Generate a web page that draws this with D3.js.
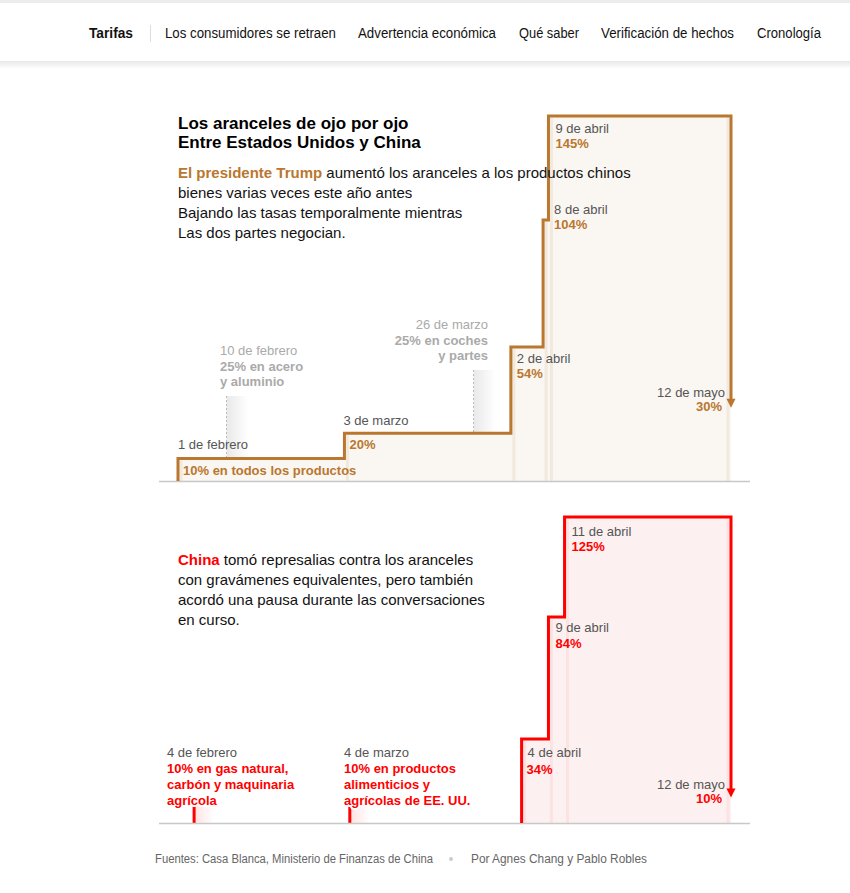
<!DOCTYPE html>
<html><head><meta charset="utf-8">
<script src="https://cdn.jsdelivr.net/npm/d3@7/dist/d3.min.js"></script>
<style>
body{margin:0;background:#fff}
svg{display:block}
text{font-family:"Liberation Sans",Arial,sans-serif}
</style>
</head><body>
<svg id="c" width="850" height="893"></svg>
<script>
// ---------- DATA ----------
const navItems = ["Tarifas","Los consumidores se retraen","Advertencia económica","Qué saber","Verificación de hechos","Cronología"];

const usDates  = ["2025-02-01","2025-03-04","2025-04-04","2025-04-10","2025-04-11"];
const usRates  = [10, 20, 54, 104, 145];
const usDateLabels = ["1 de febrero","3 de marzo","2 de abril","8 de abril","9 de abril"];
const usRateLabels = ["10% en todos los productos","20%","54%","104%","145%"];
const usEnd = {date:"2025-05-15", rate:30, dateLabel:"12 de mayo", rateLabel:"30%"};

const usSideDates  = ["2025-02-10","2025-03-28"];
const usSideLabels = [["10 de febrero","25% en acero","y aluminio"],["26 de marzo","25% en coches","y partes"]];

const cnDates  = ["2025-04-06","2025-04-11","2025-04-14"];
const cnRates  = [34, 84, 125];
const cnDateLabels = ["4 de abril","9 de abril","11 de abril"];
const cnRateLabels = ["34%","84%","125%"];
const cnEnd = {date:"2025-05-15", rate:10, dateLabel:"12 de mayo", rateLabel:"10%"};

const cnSideDates  = ["2025-02-04","2025-03-05"];
const cnSideRates  = [10, 10];
const cnSideLabels = [["4 de febrero","10% en gas natural,","carbón y maquinaria","agrícola"],
                      ["4 de marzo","10% en productos","alimenticios y","agrícolas de EE. UU."]];

const titleLines = ["Los aranceles de ojo por ojo","Entre Estados Unidos y China"];
const usText = [["El presidente Trump"," aumentó los aranceles a los productos chinos"],["","bienes varias veces este año antes"],["","Bajando las tasas temporalmente mientras"],["","Las dos partes negocian."]];
const cnText = [["China"," tomó represalias contra los aranceles"],["","con gravámenes equivalentes, pero también"],["","acordó una pausa durante las conversaciones"],["","en curso."]];
const sourceText = "Fuentes: Casa Blanca, Ministerio de Finanzas de China";
const bylineText = "Por Agnes Chang y Pablo Robles";

// ---------- STYLE / LAYOUT ----------
const ORANGE = "#b9772f", RED = "#ff0000";
const GRAY_T = "#555", LIGHT_T = "#aaa";
const svg = d3.select("#c");
const defs = svg.append("defs");
const parse = d3.utcParse("%Y-%m-%d");

const x = d3.scaleUtc().domain([parse("2025-02-01"), parse("2025-05-15")]).range([178, 731]);
const yUS = d3.scaleLinear().domain([0,145]).range([484,116]);
const yCN = d3.scaleLinear().domain([0,125]).range([822,517]);
const baseUS = 481, baseCN = 823;

// nav
svg.append("rect").attr("x",0).attr("y",0).attr("width",850).attr("height",3).attr("fill","#ececec");
const sh = defs.append("linearGradient").attr("id","sh").attr("x1",0).attr("x2",0).attr("y1",0).attr("y2",1);
sh.append("stop").attr("offset",0).attr("stop-color","#000").attr("stop-opacity",0.09);
sh.append("stop").attr("offset",1).attr("stop-color","#000").attr("stop-opacity",0);
svg.append("rect").attr("x",0).attr("y",61).attr("width",850).attr("height",8).attr("fill","url(#sh)");
const navX = [89,165,358,519,601,757], navW = [44,171,138,60,133,64];
navItems.forEach((t,i)=>{
  svg.append("text").attr("x",navX[i]).attr("y",38).attr("font-size",14)
    .attr("font-weight", i===0?"bold":"normal").attr("fill","#121212")
    .attr("textLength",navW[i]).attr("lengthAdjust","spacingAndGlyphs").text(t);
});
svg.append("line").attr("x1",150.5).attr("x2",150.5).attr("y1",25).attr("y2",42).attr("stroke","#ddd");

// gradients for side markers
function hGrad(id,color,op){
  const g = defs.append("linearGradient").attr("id",id).attr("x1",0).attr("x2",1).attr("y1",0).attr("y2",0);
  g.append("stop").attr("offset",0).attr("stop-color",color).attr("stop-opacity",op);
  g.append("stop").attr("offset",1).attr("stop-color",color).attr("stop-opacity",0);
}
hGrad("gg","#999",0.22); hGrad("rg","#ff3030",0.14);

function drawChart(o){
  const g = svg.append("g");
  const pts = o.dates.map((d,i)=>[parse(d), o.rates[i]]);
  pts.push([parse(o.end.date), o.rates[o.rates.length-1]]);
  // fill
  const area = d3.area().curve(d3.curveStepAfter).x(d=>x(d[0])).y0(o.base).y1(d=>o.y(d[1]));
  g.append("path").attr("d",area(pts)).attr("fill",o.fill);
  // stripes at each step
  pts.forEach((d,i)=>{
    const xx = i<pts.length-1 ? x(d[0])+3 : x(d[0])-3;
    g.append("line").attr("x1",xx).attr("x2",xx).attr("y1",o.y(d[1])+2).attr("y2",o.base)
      .attr("stroke",o.stripe).attr("stroke-width",3);
  });
  // side markers
  o.side.forEach(s=>s(g));
  // baseline
  g.append("line").attr("x1",159).attr("x2",750).attr("y1",o.base+0.5).attr("y2",o.base+0.5).attr("stroke","#c8c8c8").attr("stroke-width",1.5);
  // step line
  const endY = o.y(o.end.rate);
  const linePts = [[parse(o.dates[0]), null]].concat(pts).concat([[parse(o.end.date), o.end.rate]]);
  const line = d3.line().curve(d3.curveStepAfter).x(d=>x(d[0])).y((d,i)=> d[1]===null ? o.base : (i===linePts.length-1 ? o.y(d[1])-7 : o.y(d[1])));
  g.append("path").attr("d",line(linePts)).attr("fill","none").attr("stroke",o.color).attr("stroke-width",3).attr("stroke-linejoin","miter");
  const ex = x(parse(o.end.date));
  g.append("path").attr("d",`M${ex-4.5},${endY-9}L${ex+4.5},${endY-9}L${ex},${endY}Z`).attr("fill",o.color);
  // labels
  pts.slice(0,-1).forEach((d,i)=>{
    const L = o.lay[i], px = x(d[0]), py = o.y(d[1]);
    g.append("text").attr("x",px+L[0]).attr("y",py+L[1]).attr("font-size",13).attr("fill",GRAY_T).text(o.dateLabels[i]);
    g.append("text").attr("x",px+L[2]).attr("y",py+L[3]).attr("font-size",13).attr("font-weight","bold").attr("fill",o.color).text(o.rateLabels[i]);
  });
  const L = o.endLay;
  g.append("text").attr("x",ex+L[0]).attr("y",endY+L[1]).attr("text-anchor","end").attr("font-size",13).attr("fill",GRAY_T).text(o.end.dateLabel);
  g.append("text").attr("x",ex+L[2]).attr("y",endY+L[3]).attr("text-anchor","end").attr("font-size",13).attr("font-weight","bold").attr("fill",o.color).text(o.end.rateLabel);
}

// value at date for US step line
function usRateAt(ds){
  const t = parse(ds); let r = usRates[0];
  usDates.forEach((d,i)=>{ if(parse(d)<=t) r = usRates[i]; });
  return r;
}

drawChart({
  dates:usDates, rates:usRates, end:usEnd, y:yUS, base:baseUS, color:ORANGE,
  fill:"#faf6f1", stripe:"#f2e9de",
  dateLabels:usDateLabels, rateLabels:usRateLabels,
  lay:[[0,-10,5,16],[-1,-8,5,16],[6,16,6,31],[11,-6,11,9],[7,17,7,32]],
  endLay:[-6,-11,-9,3],
  side:[g=>{
    usSideDates.forEach((d,i)=>{
      const px = Math.round(x(parse(d)))+0.5, lbl = usSideLabels[i];
      const ty = i===0 ? 355 : 329, right = i===1;
      const tx = right ? 488 : 220;
      lbl.forEach((t,j)=>{
        g.append("text").attr("x",tx).attr("y",ty+j*15.5).attr("font-size",13)
          .attr("text-anchor", right?"end":"start")
          .attr("font-weight", j===0?"normal":"bold").attr("fill",LIGHT_T).text(t);
      });
      const top = ty + 2*15.5 + 10, bot = yUS(usRateAt(d));
      g.append("rect").attr("x",px).attr("y",top).attr("width",22).attr("height",bot-top).attr("fill","url(#gg)");
      g.append("line").attr("x1",px).attr("x2",px).attr("y1",top).attr("y2",bot).attr("stroke","#bbb").attr("stroke-dasharray","2,2");
    });
  }]
});

drawChart({
  dates:cnDates, rates:cnRates, end:cnEnd, y:yCN, base:baseCN, color:RED,
  fill:"#fdf0f0", stripe:"#fbe3e3",
  dateLabels:cnDateLabels, rateLabels:cnRateLabels,
  lay:[[6,18,5,35],[7,15,7,31],[7,19,7,34]],
  endLay:[-6,-9,-9,5],
  side:[g=>{
    cnSideDates.forEach((d,i)=>{
      const px = x(parse(d)), top = yCN(cnSideRates[i]);
      g.append("rect").attr("x",px).attr("y",top).attr("width",20).attr("height",baseCN-top).attr("fill","url(#rg)");
      g.append("line").attr("x1",px).attr("x2",px).attr("y1",top).attr("y2",baseCN).attr("stroke",RED).attr("stroke-width",3);
      const tx = i===0 ? 167 : 344;
      cnSideLabels[i].forEach((t,j)=>{
        g.append("text").attr("x",tx).attr("y",757+j*16).attr("font-size",13)
          .attr("font-weight", j===0?"normal":"bold").attr("fill", j===0?GRAY_T:RED)
          .attr("stroke","#fff").attr("stroke-width",j===3?4:0).attr("paint-order","stroke")
          .text(t);
      });
    });
  }]
});

// titles and body text
titleLines.forEach((t,i)=>{
  svg.append("text").attr("x",178).attr("y",129+i*19).attr("font-size",17).attr("font-weight","bold").attr("fill","#000").text(t);
});
function para(lines, y0, color){
  lines.forEach((l,i)=>{
    const t = svg.append("text").attr("x",178).attr("y",y0+i*20).attr("font-size",15).attr("fill","#121212");
    if(l[0]) t.append("tspan").attr("font-weight","bold").attr("fill",color).text(l[0]);
    t.append("tspan").text(l[1]);
  });
}
para(usText,178,ORANGE);
para(cnText,565,RED);

// footer
svg.append("text").attr("x",155).attr("y",863).attr("font-size",12).attr("fill","#666")
  .attr("textLength",278).attr("lengthAdjust","spacingAndGlyphs").text(sourceText);
svg.append("circle").attr("cx",451).attr("cy",859).attr("r",2).attr("fill","#ccc");
svg.append("text").attr("x",471).attr("y",863).attr("font-size",12).attr("fill","#666")
  .attr("textLength",176).attr("lengthAdjust","spacingAndGlyphs").text(bylineText);
</script>
</body></html>
